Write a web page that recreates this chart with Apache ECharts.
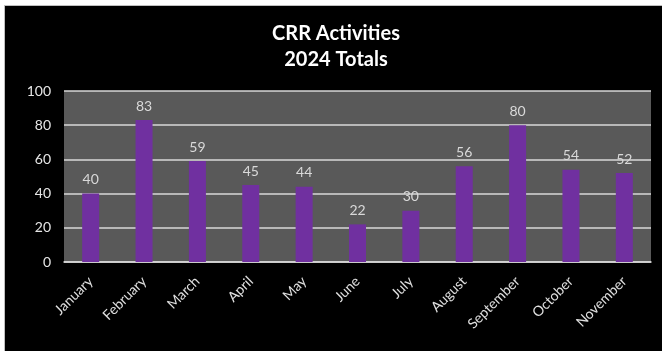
<!DOCTYPE html>
<html>
<head>
<meta charset="utf-8">
<title>CRR Activities 2024 Totals</title>
<script src="https://cdn.jsdelivr.net/npm/echarts@6/dist/echarts.min.js"></script>
<style>
  html, body { margin: 0; padding: 0; background: #ffffff; }
  #frame {
    position: absolute; left: 4px; top: 5px;
    border-top: 1px solid #bfbfbf; border-left: 1px solid #bfbfbf;
  }
  #chart { width: 657px; height: 345px; background: #000000; }
</style>
</head>
<body>
<div id="frame"><div id="chart"></div></div>
<script>
// Monthly CRR activity totals for 2024
const months = ['January', 'February', 'March', 'April', 'May', 'June',
                'July', 'August', 'September', 'October', 'November'];
const totals = [40, 83, 59, 45, 44, 22, 30, 56, 80, 54, 52];
const yTicks = [0, 20, 40, 60, 80, 100];

const FONT = 'Lato, "Open Sans", sans-serif';
const chart = echarts.init(document.getElementById('chart'), null, { renderer: 'canvas' });

chart.setOption({
  backgroundColor: '#000000',
  animation: false,
  graphic: [{
    type: 'text',
    x: 331,
    y: 15,
    style: {
      text: 'CRR Activities\n2024 Totals',
      fill: '#ffffff',
      font: 'bold 20px ' + FONT,
      lineHeight: 26,
      textAlign: 'center',
      textVerticalAlign: 'top'
    }
  }],
  grid: {
    left: 59, right: 11, top: 85, bottom: 89,
    show: true, backgroundColor: '#595959', borderWidth: 0
  },
  xAxis: {
    type: 'category',
    data: months,
    axisLine: { show: true, lineStyle: { color: '#d9d9d9', width: 1.5 } },
    axisTick: { show: false },
    axisLabel: {
      rotate: 45, margin: 17, interval: 0,
      color: '#e0e0e0', fontFamily: FONT, fontSize: 14
    }
  },
  yAxis: {
    type: 'value',
    min: yTicks[0], max: yTicks[yTicks.length - 1], interval: 20,
    axisLine: { show: false },
    axisTick: { show: false },
    axisLabel: { color: '#e6e6e6', fontFamily: FONT, fontSize: 14, margin: 13 },
    splitLine: { lineStyle: { color: '#d9d9d9', width: 1.5 } }
  },
  series: [{
    type: 'bar',
    data: totals,
    barWidth: 17,
    itemStyle: { color: '#7030A0' },
    label: {
      show: true, position: 'top', distance: 7,
      color: '#d9d9d9', fontFamily: FONT, fontSize: 14
    }
  }]
});
</script>
</body>
</html>
